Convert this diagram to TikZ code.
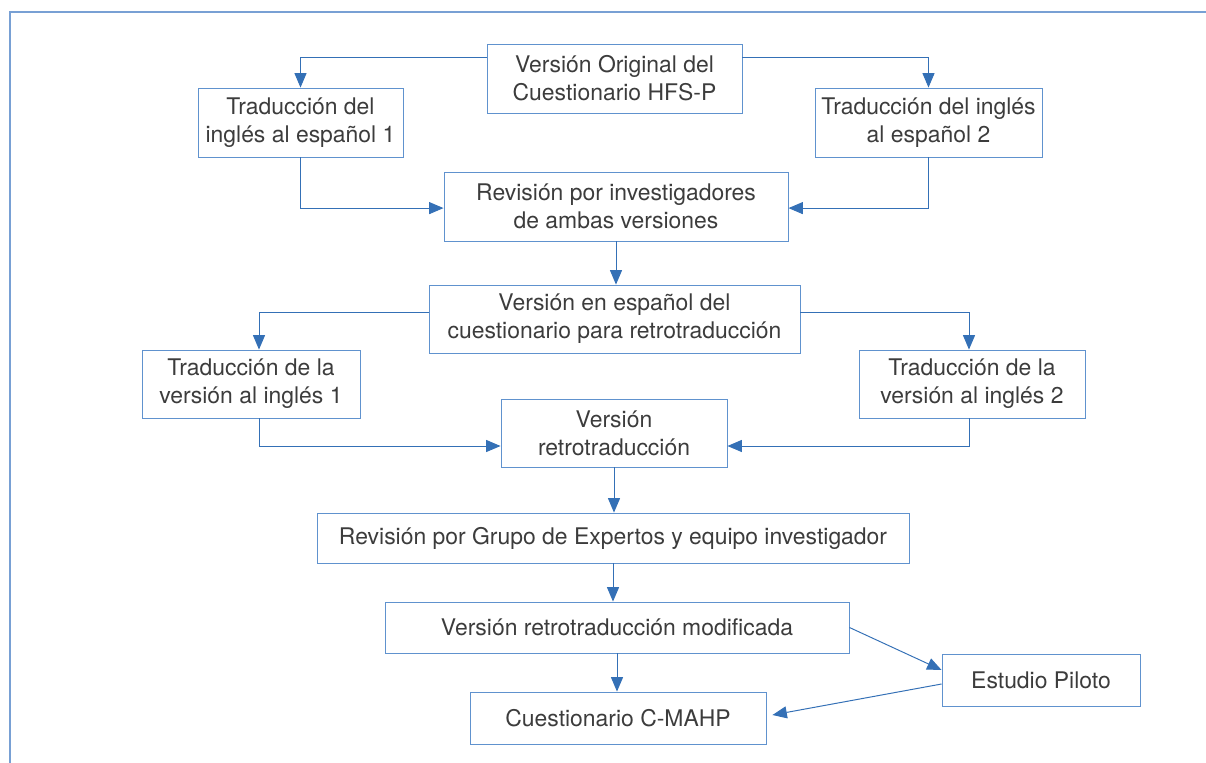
\documentclass[tikz,border=0pt]{standalone}
\usepackage{fontspec}
\setmainfont{TeX Gyre Heros}
\usetikzlibrary{arrows.meta}
\definecolor{lineblue}{RGB}{52,112,182}
\definecolor{boxblue}{RGB}{96,146,206}
\definecolor{frameblue}{RGB}{120,160,212}
\definecolor{txtgray}{RGB}{60,60,60}

\begin{document}
\begin{tikzpicture}[x=0.025cm,y=-0.025cm]
    \tikzset{block/.style= {draw=boxblue, rectangle, line width=0.6pt
    , inner sep=0pt
    , align=center
    , text=txtgray
    , font=\fontsize{16.3}{20}\selectfont
      }
    , arr/.style={draw=lineblue, line width=0.7pt, -{Triangle[length=3.6mm,width=3mm]}}
    }

\useasboundingbox (0,0) rectangle (1206,763);
\draw[frameblue, line width=0.8pt] (10,763) -- (10,12) -- (1206,12);

\node [block, minimum width=6.375cm, minimum height=1.725cm] (orig) at (614.5,78.5) {Versión Original del\\Cuestionario HFS-P};
\node [block, minimum width=5.125cm, minimum height=1.725cm] (trad1) at (300.5,122.5) {Traducción del\\inglés al español 1};
\node [block, minimum width=5.675cm, minimum height=1.725cm] (trad2) at (928.5,122.5) {Traducción del inglés\\al español 2};
\node [block, minimum width=8.6cm, minimum height=1.725cm] (rev) at (616,206.5) {Revisión por investigadores\\de ambas versiones};
\node [block, minimum width=9.275cm, minimum height=1.7cm] (esp) at (614.5,319) {Versión en español del\\cuestionario para retrotraducción};
\node [block, minimum width=5.45cm, minimum height=1.7cm] (vers1) at (251,384) {Traducción de la\\versión al inglés 1};
\node [block, minimum width=5.65cm, minimum height=1.7cm] (vers2) at (972,384) {Traducción de la\\versión al inglés 2};
\node [block, minimum width=5.65cm, minimum height=1.7cm] (retro) at (614,433) {Versión\\retrotraducción};
\node [block, minimum width=14.8cm, minimum height=1.25cm] (grupo) at (613,538) {Revisión por Grupo de Expertos y equipo investigador};
\node [block, minimum width=11.6cm, minimum height=1.275cm] (modif) at (617,627.5) {Versión retrotraducción modificada};
\node [block, minimum width=4.95cm, minimum height=1.3cm] (piloto) at (1041,680) {Estudio Piloto};
\node [block, minimum width=7.4cm, minimum height=1.3cm] (cmahp) at (618,718) {Cuestionario C-MAHP};

 \path[arr] ([yshift=0.525cm]orig.west) -| (trad1);
 \path[arr] ([yshift=0.525cm]orig.east) -| (trad2);
 \path[arr] (trad1) |- ([yshift=-0.04cm]rev.west);
 \path[arr] (trad2) |- ([yshift=-0.04cm]rev.east);
 \path[arr] (rev.south) -- (rev.south |- esp.north);
 \path[arr] ([yshift=0.175cm]esp.west) -| ([xshift=0.2cm]vers1.north);
 \path[arr] ([yshift=0.175cm]esp.east) -| ([xshift=-0.075cm]vers2.north);
 \path[arr] ([xshift=0.2cm]vers1.south) |- ([yshift=-0.325cm]retro.west);
 \path[arr] ([xshift=-0.075cm]vers2.south) |- ([yshift=-0.325cm]retro.east);
 \path[arr] (retro.south) -- (retro.south |- grupo.north);
 \path[arr] (grupo.south) -- (grupo.south |- modif.north);
 \path[arr] (modif.south) -- (modif.south |- cmahp.north);
 \path[arr] (modif.east) -- ([yshift=0.25cm]piloto.west);
 \path[arr] ([yshift=-0.1cm]piloto.west) -- ([xshift=0.15cm,yshift=0.075cm]cmahp.east);
\end{tikzpicture}
\end{document}
